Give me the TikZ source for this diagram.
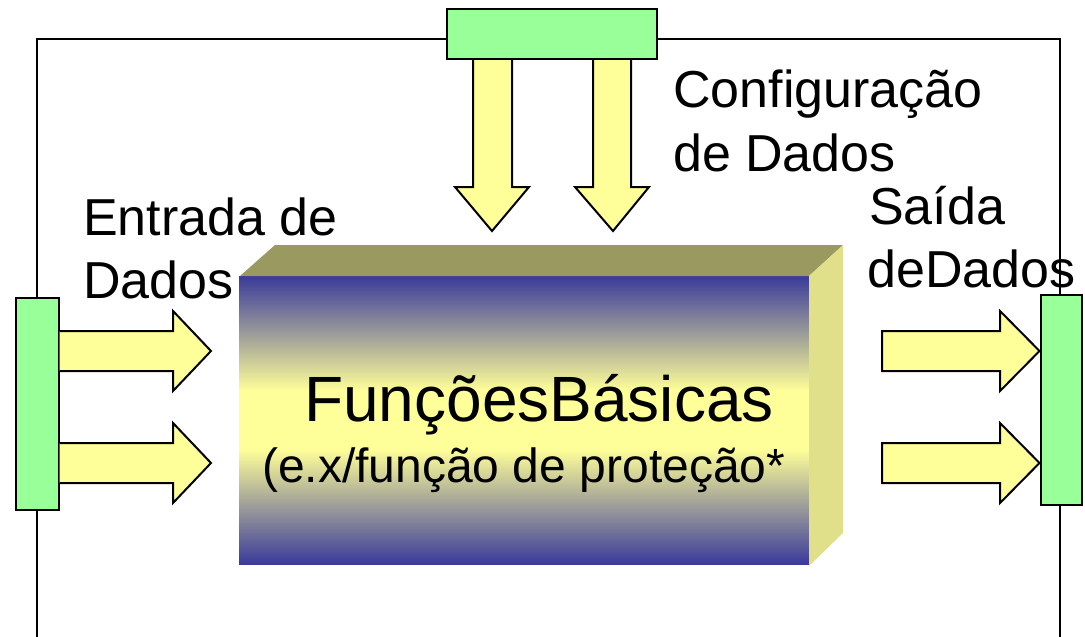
\documentclass[tikz,border=0pt]{standalone}
\usepackage{fontspec}
\setmainfont{Liberation Sans}
\definecolor{barGreen}{HTML}{99FF99}
\definecolor{arrYellow}{HTML}{FFFF99}
\definecolor{boxBlue}{HTML}{3A3A9A}
\definecolor{boxYellow}{HTML}{FFFF99}
\definecolor{topOlive}{HTML}{999960}
\definecolor{sideKhaki}{HTML}{E0E08A}
\pgfdeclareverticalshading{boxshade}{100bp}{color(0bp)=(boxBlue); color(25bp)=(boxBlue); color(45bp)=(boxYellow); color(55bp)=(boxYellow); color(75bp)=(boxBlue); color(100bp)=(boxBlue)}
\tikzset{
  bar/.style={draw, line width=2pt, fill=barGreen, inner sep=0pt, rectangle},
  blockarrow/.style={draw, line width=2pt, fill=arrYellow, line join=miter},
  frameline/.style={line width=2pt},
  lbl/.style={anchor=base west, inner sep=0pt, font=\fontsize{52}{60}\selectfont},
}
\begin{document}
\begin{tikzpicture}[x=1pt,y=-1pt]
\useasboundingbox (0,0) rectangle (1085,637);
% coordinates for the frame
\coordinate (tl) at (37,39);
\coordinate (tr) at (1060,39);
\coordinate (bl) at (37,637);
\coordinate (br) at (1060,637);
% green bars
\node[bar, minimum width=210pt, minimum height=50pt] (topbar) at (552,34) {};
\node[bar, minimum width=43pt, minimum height=212pt] (leftbar) at (37,404) {};
\node[bar, minimum width=41pt, minimum height=210pt] (rightbar) at (1061,400) {};
% frame lines
\draw[frameline] (leftbar.north) -- (tl) -- (tl -| topbar.west);
\draw[frameline] (tr -| topbar.east) -- (tr) -- (tr |- rightbar.north);
\draw[frameline] (leftbar.south) -- (bl);
\draw[frameline] (tr |- rightbar.south) -- (br);
% box
\shade[shading=boxshade] (239,276) rectangle (809,564);
\fill[topOlive] (240,276) -- (275,245) -- (843,245) -- (809,276) -- cycle;
\fill[sideKhaki] (809,276) -- (843,245) -- (843,533) -- (809,566) -- cycle;
\node[inner sep=0pt, anchor=base, font=\fontsize{64}{70}\selectfont] (title) at (539,421) {FunçõesBásicas};
\node[inner sep=0pt, anchor=base west, font=\fontsize{48}{56}\selectfont] (sub) at (262,482) {(e.x/função de proteção*};
% left arrows
\draw[blockarrow] (leftbar.east |- 0,331) -- (173,331) -- (173,311) -- (211,351) -- (173,391) -- (173,371) -- (leftbar.east |- 0,371);
\draw[blockarrow] (leftbar.east |- 0,443) -- (173,443) -- (173,423) -- (211,463) -- (173,503) -- (173,483) -- (leftbar.east |- 0,483);
% right arrows
\draw[blockarrow] (882,331) -- (1000,331) -- (1000,311) -- (rightbar.west |- 0,351) -- (1000,391) -- (1000,371) -- (882,371) -- cycle;
\draw[blockarrow] (882,443) -- (1000,443) -- (1000,423) -- (rightbar.west |- 0,463) -- (1000,503) -- (1000,483) -- (882,483) -- cycle;
% top arrows
\draw[blockarrow] (473,0 |- topbar.south) -- (473,187) -- (455,187) -- (492,231) -- (529,187) -- (512,187) -- (512,0 |- topbar.south);
\draw[blockarrow] (593,0 |- topbar.south) -- (593,187) -- (575,187) -- (613,231) -- (649,187) -- (631,187) -- (631,0 |- topbar.south);
% labels
\node[lbl] (entrada) at (83,235) {Entrada de};
\node[lbl] (dados1) at (83,298) {Dados};
\node[lbl] (config) at (673,107) {Configuração};
\node[lbl] (dados2) at (673,171) {de Dados};
\node[lbl] (saida) at (869,224) {Saída};
\node[lbl] (dados3) at (867,287) {deDados};
\end{tikzpicture}
\end{document}
